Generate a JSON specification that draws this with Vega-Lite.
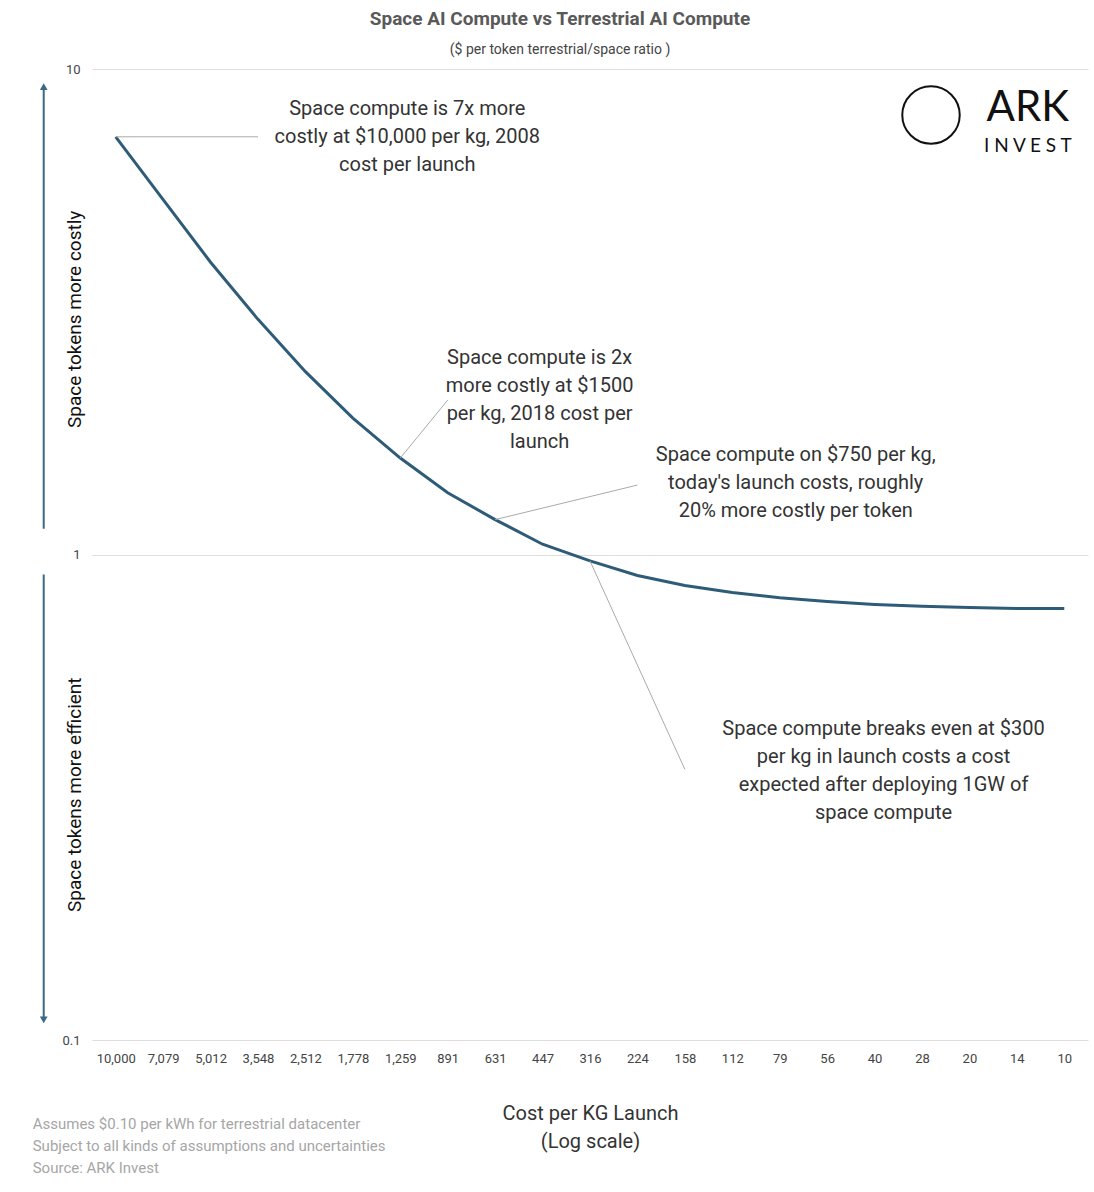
{
"$schema":"https://vega.github.io/schema/vega-lite/v6.json",
"width":996,"height":971,
"autosize":{"type":"none"},
"padding":{"left":92,"top":69,"right":6,"bottom":152},
"background":"white",
"config":{"view":{"stroke":null},"font":"Open Sans"},
"title":{"text":"Space AI Compute vs Terrestrial AI Compute","subtitle":"($ per token terrestrial/space ratio )","fontSize":19,"fontWeight":"bold","color":"#595959","subtitleFontSize":14,"subtitleColor":"#444","dx":-30,"offset":6,"subtitlePadding":14,"font":"Roboto","subtitleFont":"Roboto"},
"datasets":{
"curve":[
{"cost":"10,000","ratio":7.25},{"cost":"7,079","ratio":5.38},{"cost":"5,012","ratio":4.0},{"cost":"3,548","ratio":3.05},{"cost":"2,512","ratio":2.38},{"cost":"1,778","ratio":1.91},{"cost":"1,259","ratio":1.58},{"cost":"891","ratio":1.34},{"cost":"631","ratio":1.18},{"cost":"447","ratio":1.05},{"cost":"316","ratio":0.97},{"cost":"224","ratio":0.905},{"cost":"158","ratio":0.863},{"cost":"112","ratio":0.835},{"cost":"79","ratio":0.815},{"cost":"56","ratio":0.8},{"cost":"40","ratio":0.789},{"cost":"28","ratio":0.782},{"cost":"20","ratio":0.778},{"cost":"14","ratio":0.774},{"cost":"10","ratio":0.774}],
"leaders":[
{"x":"10,000","y":7.25,"x2":"3,548","y2":7.25},
{"x":"1,259","y":1.58,"x2":"891","y2":2.08},
{"x":"631","y":1.18,"x2":"224","y2":1.39},
{"x":"316","y":0.97,"x2":"158","y2":0.361}],
"notes":[
{"x":"1,259","y":8.27,"dx":7,"t":"Space compute is 7x more\ncostly at $10,000 per kg, 2008\ncost per launch"},
{"x":"447","y":2.54,"dx":-3,"t":"Space compute is 2x\nmore costly at $1500\nper kg, 2018 cost per\nlaunch"},
{"x":"79","y":1.6,"dx":16,"t":"Space compute on $750 per kg,\ntoday's launch costs, roughly\n20% more costly per token"},
{"x":"40","y":0.438,"dx":9,"t":"Space compute breaks even at $300\nper kg in launch costs a cost\nexpected after deploying 1GW of\nspace compute"}],
"arrows":[{"x":"10,000","y":1.13,"y2":9.2},{"x":"10,000","y":0.91,"y2":0.11}],
"heads":[{"x":"10,000","y":9.2,"s":"triangle-up"},{"x":"10,000","y":0.11,"s":"triangle-down"}],
"side":[{"x":"10,000","y":3.05,"t":"Space tokens more costly"},{"x":"10,000","y":0.32,"t":"Space tokens more efficient"}],
"foot":[{"x":"10,000","y":0.1,"t":"Assumes $0.10 per kWh for terrestrial datacenter\nSubject to all kinds of assumptions and uncertainties\nSource: ARK Invest"}],
"logo":[{"x":"28","y":8.04}],
"brand":[{"x":"14","y":8.32,"t":"ARK","fs":42},{"x":"14","y":6.95,"t":"I N V E S T","fs":19}]
},
"encoding":{
"x":{"field":"x","type":"ordinal","scale":{"type":"point","padding":0.5,"domain":["10,000","7,079","5,012","3,548","2,512","1,778","1,259","891","631","447","316","224","158","112","79","56","40","28","20","14","10"]}},
"y":{"field":"y","type":"quantitative","scale":{"type":"log","domain":[0.1,10]}}
},
"layer":[
{"data":{"name":"curve"},"mark":{"type":"line","color":"#2e5c78","strokeWidth":3},
"encoding":{"x":{"field":"cost","type":"ordinal","axis":{"title":["Cost per KG Launch","(Log scale)"],"titleFontSize":20,"titleFontWeight":"normal","titleColor":"#333","titlePadding":38,"titleLineHeight":28,"labelAngle":0,"labelFontSize":13,"labelColor":"#444","labelPadding":12,"ticks":false,"domain":false,"grid":false,"titleFont":"Roboto","labelFont":"Roboto"}},
"y":{"field":"ratio","type":"quantitative","axis":{"title":null,"values":[0.1,1,10],"format":"~g","labelFontSize":13,"labelColor":"#444","labelPadding":12,"ticks":false,"domain":false,"gridColor":"#dedede","labelFont":"Roboto"}}}},
{"data":{"name":"leaders"},"mark":{"type":"rule","color":"#aaaaaa","strokeWidth":1},"encoding":{"x2":{"field":"x2"},"y2":{"field":"y2"}}},
{"data":{"name":"notes"},"mark":{"type":"text","fontSize":20,"color":"#333","lineBreak":"\n","lineHeight":28,"align":"center","baseline":"middle","font":"Roboto"},"encoding":{"text":{"field":"t"},"xOffset":{"field":"dx","type":"quantitative","scale":null}}},
{"data":{"name":"arrows"},"mark":{"type":"rule","color":"#3a6a85","strokeWidth":2},"encoding":{"y2":{"field":"y2"},"xOffset":{"value":-72}}},
{"data":{"name":"heads"},"mark":{"type":"point","filled":true,"color":"#3a6a85","size":60,"opacity":1},"encoding":{"shape":{"field":"s","type":"nominal","scale":null},"xOffset":{"value":-72}}},
{"data":{"name":"side"},"mark":{"type":"text","fontSize":19,"color":"#111","angle":270,"align":"center","baseline":"middle","font":"Roboto"},"encoding":{"text":{"field":"t"},"xOffset":{"value":-41}}},
{"data":{"name":"foot"},"mark":{"type":"text","fontSize":15,"color":"#a6a6a6","align":"left","baseline":"middle","lineBreak":"\n","lineHeight":22,"dy":84,"font":"Roboto"},"encoding":{"text":{"field":"t"},"xOffset":{"value":-83}}},
{"data":{"name":"logo"},"mark":{"type":"point","shape":"circle","size":3300,"stroke":"#111","strokeWidth":2,"filled":false,"opacity":1},"encoding":{"xOffset":{"value":9}}},
{"data":{"name":"brand"},"mark":{"type":"text","color":"#111","align":"center","baseline":"middle","font":"Lato"},"encoding":{"text":{"field":"t"},"size":{"field":"fs","type":"quantitative","scale":null},"xOffset":{"value":11}}}
]
}
